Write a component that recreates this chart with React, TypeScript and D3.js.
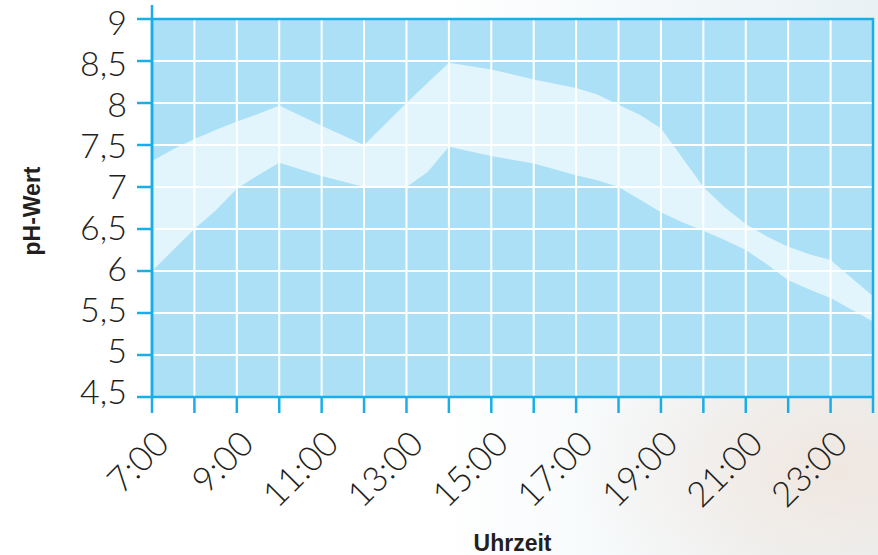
import { useEffect, useRef } from 'react';
import * as d3 from 'd3';

// Uhrzeit (Stunden) und pH-Band (oberer / unterer Rand)
const hours = [7, 7.5, 8, 8.5, 9, 9.5, 10, 11, 12, 13, 13.5, 14, 15, 16, 17, 17.5, 18, 18.5, 19, 19.5, 20, 20.5, 21, 21.5, 22, 22.5, 23, 24];
const upper = [7.31, 7.45, 7.57, 7.68, 7.78, 7.87, 7.97, 7.73, 7.5, 8.0, 8.24, 8.48, 8.4, 8.28, 8.18, 8.1, 7.98, 7.86, 7.7, 7.35, 7.0, 6.76, 6.56, 6.41, 6.29, 6.2, 6.13, 5.7];
const lower = [6.0, 6.25, 6.5, 6.72, 6.98, 7.14, 7.29, 7.13, 7.0, 7.0, 7.18, 7.48, 7.37, 7.28, 7.14, 7.08, 7.0, 6.85, 6.7, 6.58, 6.48, 6.37, 6.25, 6.08, 5.89, 5.78, 5.68, 5.4];

const yTicks = [4.5, 5, 5.5, 6, 6.5, 7, 7.5, 8, 8.5, 9];
const xTicks = [7, 8, 9, 10, 11, 12, 13, 14, 15, 16, 17, 18, 19, 20, 21, 22, 23, 24];
const xLabels = [7, 9, 11, 13, 15, 17, 19, 21, 23];

const W = 878;
const H = 555;

const PhChart = () => {
  const svgRef = useRef<SVGSVGElement>(null);

  useEffect(() => {
    if (!svgRef.current) return;
    d3.select(svgRef.current).selectAll('*').remove();

    const svg = d3.select(svgRef.current).attr('width', W).attr('height', H);

    const blue = '#19aee8';
    const numFont = 'Lato, "Open Sans", sans-serif';

    // background
    const defs = svg.append('defs');
    const lg = defs.append('linearGradient').attr('id', 'bg').attr('x1', 0).attr('x2', 1).attr('y1', 0).attr('y2', 0);
    lg.append('stop').attr('offset', '0.5').attr('stop-color', '#ffffff');
    lg.append('stop').attr('offset', '1').attr('stop-color', '#e9f1f5');
    const rg = defs.append('radialGradient').attr('id', 'peach').attr('cx', 0.95).attr('cy', 0.85).attr('r', 0.3);
    rg.append('stop').attr('offset', '0').attr('stop-color', '#f2e4da').attr('stop-opacity', 0.8);
    rg.append('stop').attr('offset', '1').attr('stop-color', '#f2e4da').attr('stop-opacity', 0);
    svg.append('rect').attr('width', W).attr('height', H).attr('fill', 'url(#bg)');
    svg.append('rect').attr('width', W).attr('height', H).attr('fill', 'url(#peach)');

    const x = d3.scaleLinear().domain([7, 24]).range([152, 873]);
    const y = d3.scaleLinear().domain([4.5, 9]).range([397, 19]);
    // the tick labels sit on a slightly tighter spacing than the ticks
    const yLabel = d3.scaleLinear().domain([4.5, 9]).range([404, 35]);

    // plot area
    svg.append('rect')
      .attr('x', x(7)).attr('y', y(9))
      .attr('width', x(24) - x(7)).attr('height', y(4.5) - y(9))
      .attr('fill', '#abe0f7');

    // band
    const area = d3.area<number>()
      .x((_, i) => x(hours[i]))
      .y0((_, i) => y(lower[i]))
      .y1((_, i) => y(upper[i]))
      .curve(d3.curveLinear);

    svg.append('path')
      .datum(hours)
      .attr('fill', '#e2f4fc')
      .attr('d', area);

    // grid
    svg.append('g')
      .selectAll('line')
      .data(xTicks.slice(1, -1))
      .enter()
      .append('line')
      .attr('x1', d => x(d)).attr('x2', d => x(d))
      .attr('y1', y(9)).attr('y2', y(4.5))
      .attr('stroke', '#ffffff').attr('stroke-width', 2);

    svg.append('g')
      .selectAll('line')
      .data(yTicks.slice(1, -1))
      .enter()
      .append('line')
      .attr('x1', x(7)).attr('x2', x(24))
      .attr('y1', d => y(d)).attr('y2', d => y(d))
      .attr('stroke', '#ffffff').attr('stroke-width', 2);

    // border + axes
    svg.append('rect')
      .attr('x', x(7)).attr('y', y(9))
      .attr('width', x(24) - x(7)).attr('height', y(4.5) - y(9))
      .attr('fill', 'none').attr('stroke', blue).attr('stroke-width', 2.5);

    svg.append('line')
      .attr('x1', x(7)).attr('x2', x(7))
      .attr('y1', 5).attr('y2', y(4.5))
      .attr('stroke', blue).attr('stroke-width', 2.5);

    // y ticks
    svg.append('g')
      .selectAll('line')
      .data(yTicks)
      .enter()
      .append('line')
      .attr('x1', 137).attr('x2', x(7))
      .attr('y1', d => y(d)).attr('y2', d => y(d))
      .attr('stroke', blue).attr('stroke-width', 2.5);

    svg.append('g')
      .selectAll('text')
      .data(yTicks)
      .enter()
      .append('text')
      .attr('x', 127)
      .attr('y', d => yLabel(d))
      .attr('text-anchor', 'end')
      .attr('fill', '#231f20')
      .style('font-family', numFont)
      .style('font-weight', '300')
      .style('font-size', '34px')
      .text(d => String(d).replace('.', ','));

    // x ticks
    svg.append('g')
      .selectAll('line')
      .data(xTicks)
      .enter()
      .append('line')
      .attr('x1', d => x(d)).attr('x2', d => x(d))
      .attr('y1', y(4.5)).attr('y2', 413)
      .attr('stroke', blue).attr('stroke-width', 2.5);

    svg.append('g')
      .selectAll('text')
      .data(xLabels)
      .enter()
      .append('text')
      .attr('transform', d => `translate(${x(d) + 19},446) rotate(-45)`)
      .attr('text-anchor', 'end')
      .attr('fill', '#231f20')
      .style('font-family', numFont)
      .style('font-weight', '300')
      .style('font-size', '35px')
      .text(d => `${d}:00`);

    // axis titles
    svg.append('text')
      .attr('x', (x(7) + x(24)) / 2)
      .attr('y', 551)
      .attr('text-anchor', 'middle')
      .attr('fill', '#231f20')
      .style('font-family', '"Liberation Sans", Arial, sans-serif')
      .style('font-weight', 'bold')
      .style('font-size', '23px')
      .text('Uhrzeit');

    svg.append('text')
      .attr('transform', 'translate(40,211) rotate(-90)')
      .attr('text-anchor', 'middle')
      .attr('fill', '#231f20')
      .style('font-family', '"Liberation Sans", Arial, sans-serif')
      .style('font-weight', 'bold')
      .style('font-size', '23px')
      .text('pH-Wert');
  }, []);

  return <svg ref={svgRef} style={{ display: 'block' }} />;
};

export default function App() {
  return (
    <div style={{ position: 'absolute', left: 0, top: 0 }}>
      <PhChart />
    </div>
  );
}
